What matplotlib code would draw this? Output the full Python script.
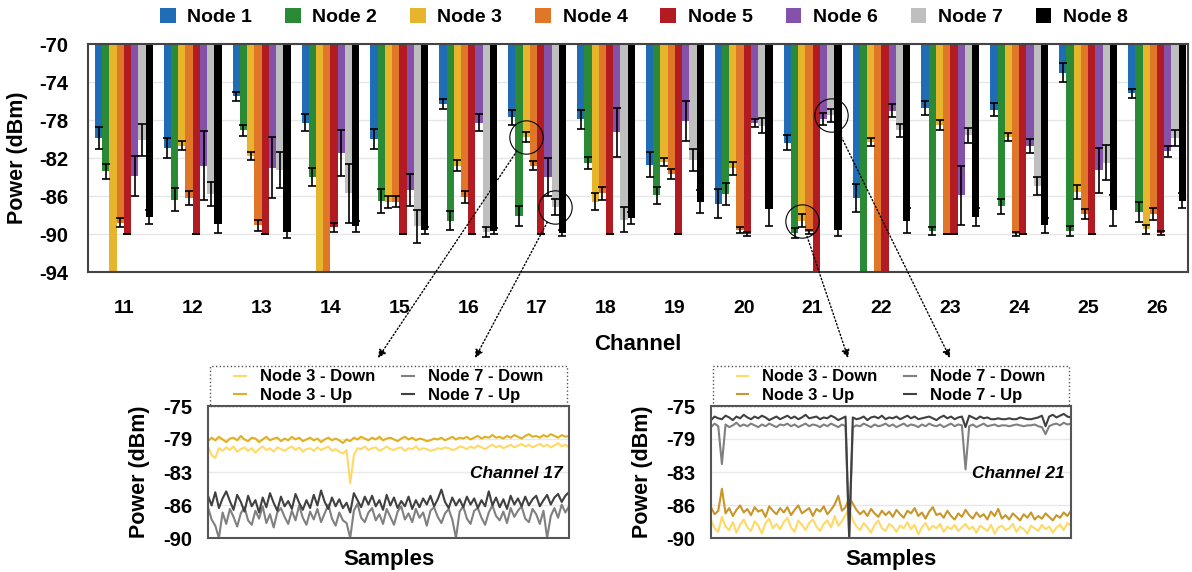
import numpy as np
import matplotlib
matplotlib.use('Agg')
import matplotlib.pyplot as plt
from matplotlib.patches import Patch, Rectangle, ConnectionPatch
from matplotlib.lines import Line2D

plt.rcParams['font.family'] = ['Liberation Sans', 'DejaVu Sans']
plt.rcParams['font.weight'] = 'bold'
plt.rcParams['axes.labelweight'] = 'bold'
plt.rcParams['axes.unicode_minus'] = False

# ---------------- data ----------------
channels = [11, 12, 13, 14, 15, 16, 17, 18, 19, 20, 21, 22, 23, 24, 25, 26]
nodes = ['Node 1', 'Node 2', 'Node 3', 'Node 4', 'Node 5', 'Node 6', 'Node 7', 'Node 8']

# mean power per node (dBm); values below -94 run off the axis
node1 = [-79.9, -80.9, -75.5, -78.3, -80.0, -76.3, -77.7, -77.9, -82.7, -86.8, -80.4, -86.2, -76.7, -76.9, -73.0, -75.2]
node2 = [-83.4, -86.4, -79.1, -84.0, -86.5, -88.6, -88.1, -82.5, -85.9, -85.8, -89.9, -95.0, -89.7, -87.1, -89.7, -87.7]
node3 = [-95.0, -80.7, -81.8, -95.0, -86.6, -82.8, -79.8, -86.6, -82.4, -83.1, -88.6, -80.3, -78.5, -79.8, -85.6, -89.5]
node4 = [-88.8, -86.2, -89.1, -95.0, -86.6, -86.1, -82.8, -85.7, -83.7, -89.6, -89.8, -95.0, -90.0, -90.0, -87.9, -87.9]
node5 = [-90.0, -90.0, -90.0, -89.3, -90.0, -90.0, -90.0, -90.0, -90.0, -90.0, -95.0, -95.0, -90.0, -90.0, -90.0, -89.9]
node6 = [-83.9, -82.8, -83.0, -81.5, -85.4, -78.3, -84.0, -79.3, -78.1, -78.3, -77.9, -77.0, -85.9, -80.7, -83.3, -81.3]
node7 = [-80.1, -85.8, -83.3, -85.7, -89.2, -89.8, -87.2, -88.5, -82.2, -78.6, -77.5, -79.1, -79.6, -84.9, -82.5, -79.9]
node8 = [-88.2, -88.9, -89.8, -89.2, -89.6, -89.7, -89.9, -88.3, -86.6, -87.4, -89.6, -88.6, -88.2, -89.1, -87.5, -86.5]

err1 = [1.2, 1.05, 0.5, 0.9, 1.05, 0.5, 0.8, 1.0, 1.3, 1.5, 0.8, 1.5, 0.75, 0.7, 1.0, 0.45]
err2 = [0.8, 1.2, 0.55, 0.9, 1.25, 1.0, 1.05, 0.65, 0.9, 1.15, 0.5, 0.0, 0.4, 0.8, 0.55, 1.05]
err3 = [0.0, 0.5, 0.4, 0.0, 0.65, 0.55, 0.5, 0.9, 0.4, 0.65, 0.7, 0.45, 0.55, 0.45, 0.75, 0.5]
err4 = [0.5, 0.7, 0.55, 0.0, 0.55, 0.6, 0.45, 0.7, 0.5, 0.3, 0.25, 0.0, 0.05, 0.2, 0.55, 0.65]
err5 = [0.05, 0.05, 0.05, 0.5, 0.05, 0.05, 0.05, 0.05, 0.05, 0.2, 0.0, 0.0, 0.05, 0.05, 0.05, 0.2]
err6 = [2.1, 3.6, 3.2, 2.4, 1.7, 0.9, 2.0, 2.6, 2.1, 0.45, 0.6, 0.7, 3.1, 0.75, 2.4, 0.6]
err7 = [1.7, 1.3, 1.9, 3.1, 1.7, 0.5, 0.85, 1.3, 1.2, 0.8, 0.7, 0.65, 0.8, 0.95, 1.85, 0.8]
err8 = [0.7, 1.0, 0.6, 0.6, 0.35, 0.35, 0.3, 0.6, 1.2, 1.8, 0.6, 1.3, 0.95, 0.75, 1.65, 0.8]

means = [node1, node2, node3, node4, node5, node6, node7, node8]
errs = [err1, err2, err3, err4, err5, err6, err7, err8]
colors = ['#1f6db5', '#2a8a36', '#e6b52c', '#e07628', '#b31b22', '#8452a8', '#bfbfbf', '#000000']

# inset: channel 17 samples
ch17_n3_up = [-79.0, -78.6, -78.9, -78.5, -78.8, -79.1, -78.7, -78.6, -78.9, -78.4,
              -78.8, -79.0, -78.6, -78.7, -79.1, -78.8, -78.5, -78.9, -78.7, -78.6,
              -79.0, -78.7, -78.9, -78.5, -78.8, -78.6, -79.0, -78.8, -78.6, -78.9,
              -78.7, -79.1, -78.8, -78.6, -78.9, -78.7, -78.9, -79.2, -78.8, -79.0,
              -78.6, -78.8, -78.5, -78.7, -78.9, -78.6, -78.8, -78.5, -78.9, -78.7,
              -78.6, -78.8, -79.0, -78.7, -78.5, -78.8, -78.6, -78.9, -78.7, -78.8,
              -79.0, -78.9, -78.7, -78.8, -78.6, -78.9, -78.7, -78.5, -78.8, -78.6,
              -78.7, -78.5, -78.8, -78.6, -78.4, -78.7, -78.5, -78.6, -78.3, -78.6,
              -78.5, -78.7, -78.4, -78.6, -78.3, -78.5, -78.7, -78.4, -78.2, -78.5,
              -78.4, -78.6, -78.3, -78.5, -78.2, -78.4, -78.6, -78.3, -78.5, -78.4]
ch17_n3_down = [-79.6, -80.6, -80.9, -79.8, -80.1, -79.7, -80.0, -79.6, -80.2, -79.9,
                -79.7, -80.1, -79.8, -80.3, -79.9, -79.6, -80.0, -79.8, -80.2, -79.7,
                -79.9, -80.1, -79.8, -79.6, -80.0, -79.7, -80.2, -79.9, -79.8, -80.1,
                -79.7, -80.0, -79.8, -79.6, -80.1, -79.9, -80.2, -80.4, -80.0, -83.8,
                -80.6, -79.8, -79.9, -79.6, -80.0, -79.8, -79.7, -80.1, -79.9, -79.6,
                -79.9, -80.0, -79.8, -79.7, -80.1, -79.8, -79.9, -79.6, -80.0, -79.8,
                -79.9, -80.1, -80.0, -79.8, -79.9, -79.7, -79.8, -80.0, -79.9, -79.6,
                -79.7, -79.9, -79.6, -79.8, -79.5, -79.7, -79.9, -79.6, -79.4, -79.7,
                -79.5, -79.8, -79.6, -79.4, -79.7, -79.5, -79.3, -79.6, -79.4, -79.7,
                -79.5, -79.3, -79.6, -79.4, -79.7, -79.5, -79.2, -79.6, -79.4, -79.7]
ch17_n7_up = [-85.2, -86.3, -84.8, -86.6, -85.5, -84.7, -85.8, -86.8, -85.1, -85.9,
              -87.0, -85.2, -86.4, -85.7, -87.1, -85.4, -86.5, -84.9, -86.0, -86.9,
              -85.3, -86.4, -85.8, -86.7, -85.0, -86.0, -86.8, -85.7, -86.6, -85.1,
              -86.3, -84.6, -85.9, -86.7, -85.4, -86.4, -85.6, -86.6, -86.0, -87.1,
              -84.9, -85.7, -86.5, -85.3, -86.2, -85.2, -86.4, -85.7, -86.8, -85.1,
              -86.3, -85.4, -86.6, -85.8, -86.4, -85.3, -86.7, -85.7, -86.5, -85.5,
              -86.2, -85.2, -86.4, -85.6, -84.5, -85.9, -86.6, -85.4, -86.3, -85.6,
              -86.5, -85.3, -86.2, -85.5, -86.6, -85.7, -86.4, -84.7, -86.3, -85.4,
              -86.5, -85.6, -86.7, -85.2, -86.2, -85.5, -86.4, -85.3, -86.3, -85.6,
              -85.2, -86.4, -85.7, -85.1, -86.2, -85.4, -85.0, -85.9, -85.2, -84.8]
ch17_n7_down = [-86.5, -87.9, -88.6, -90.0, -87.1, -88.4, -86.7, -87.6, -88.7, -87.2,
                -86.5, -88.0, -88.5, -86.9, -87.8, -86.4, -88.3, -87.3, -88.8, -87.1,
                -86.6, -87.6, -88.4, -86.9, -88.0, -86.3, -87.7, -88.5, -87.0, -87.9,
                -86.7, -88.2, -87.2, -86.2, -87.8, -88.6, -87.1, -88.0, -88.3, -90.0,
                -86.9, -86.1, -87.7, -88.2, -87.1, -86.6, -88.0, -87.3, -88.4, -86.7,
                -87.6, -88.5, -87.0, -86.4, -87.9, -87.2, -88.2, -86.7, -87.7, -87.1,
                -88.6, -86.9, -86.5, -87.6, -88.3, -87.2, -86.7, -87.9, -90.0, -87.0,
                -86.4, -87.8, -88.4, -86.9, -86.6, -87.7, -88.5, -87.1, -86.3, -87.5,
                -88.0, -87.0, -88.3, -86.6, -87.6, -86.9, -86.4, -87.8, -88.2, -86.7,
                -87.3, -88.4, -86.9, -90.0, -87.5, -86.6, -87.7, -86.2, -87.1, -86.4]

# inset: channel 21 samples
ch21_n3_up = [-86.5, -87.3, -86.9, -84.4, -87.2, -86.6, -87.5, -86.8, -86.3, -87.1,
              -86.7, -87.4, -86.5, -87.0, -86.8, -87.6, -86.4, -86.9, -87.3, -86.6,
              -87.1, -86.5, -87.4, -86.8, -86.3, -87.2, -86.9, -86.6, -87.5, -86.7,
              -87.0, -86.4, -87.3, -86.8, -86.2, -85.2, -86.9, -86.5, -85.4, -86.1,
              -86.8, -87.3, -86.9, -87.5, -86.7, -87.2, -87.6, -86.9, -87.4, -87.0,
              -87.6, -86.8, -87.3, -87.7, -86.9, -87.2, -86.6, -87.5, -87.1, -87.8,
              -87.0, -86.5, -87.4, -87.2, -87.7, -86.9, -87.5, -87.9, -87.2, -87.6,
              -86.8, -87.4, -87.8, -87.1, -87.6, -87.3, -87.9, -87.0, -87.5, -86.7,
              -87.8, -87.4, -87.9, -87.2, -87.6, -88.0, -87.3, -87.7, -87.1, -87.9,
              -87.5, -87.8, -87.2, -87.6, -88.0, -87.4, -87.7, -87.1, -87.5, -86.9]
ch21_n3_down = [-88.0, -88.9, -89.3, -87.6, -88.7, -89.1, -88.2, -89.4, -88.5, -87.9,
                -88.8, -89.2, -88.1, -88.6, -89.5, -88.3, -87.8, -88.9, -88.4, -89.0,
                -88.2, -87.7, -88.8, -89.3, -88.0, -88.5, -89.1, -88.3, -87.9, -88.7,
                -89.2, -88.4, -88.0, -88.8, -87.5, -88.6, -88.1, -87.4, -86.6, -88.0,
                -88.7, -89.1, -88.3, -88.8, -89.4, -88.5, -88.0, -88.9, -89.2, -88.4,
                -88.7, -89.3, -88.6, -88.9, -88.2, -89.0, -88.5, -89.6, -88.8, -88.3,
                -89.1, -88.6, -88.9, -88.4, -89.3, -88.7, -89.0, -88.5, -89.2, -88.8,
                -88.4, -89.0, -88.7, -89.4, -88.6, -88.9, -89.2, -88.5, -89.5, -88.8,
                -88.6, -89.1, -88.9, -88.4, -89.3, -88.7, -89.0, -89.5, -88.6, -88.9,
                -89.2, -88.5, -89.0, -88.7, -89.4, -88.8, -88.5, -89.1, -88.3, -88.6]
ch21_n7_up = [-76.6, -76.2, -76.4, -76.5, -76.1, -76.3, -76.6, -76.2, -76.4, -76.0,
              -76.3, -76.5, -76.2, -76.4, -76.1, -76.3, -76.6, -76.4, -76.2, -76.5,
              -76.3, -76.1, -76.4, -76.2, -76.5, -76.3, -76.0, -76.4, -76.3, -76.2,
              -76.5, -76.3, -76.4, -76.1, -76.3, -76.6, -76.4, -76.2, -90.0, -76.3,
              -76.5, -76.4, -76.2, -76.6, -76.3, -76.2, -76.4, -76.1, -76.5, -76.3,
              -76.4, -76.2, -76.5, -76.3, -76.1, -76.4, -76.2, -76.5, -76.4, -76.3,
              -76.2, -76.4, -76.6, -76.3, -76.1, -76.4, -76.2, -76.5, -76.3, -76.2,
              -77.4, -76.1, -76.3, -76.5, -76.2, -76.4, -76.3, -76.5, -76.5, -76.4,
              -76.5, -76.5, -76.4, -76.5, -76.5, -76.3, -76.4, -76.5, -76.5, -76.4,
              -76.3, -76.1, -77.3, -76.2, -76.0, -76.3, -76.1, -75.9, -76.2, -76.3]
ch21_n7_down = [-77.4, -77.0, -77.3, -81.6, -77.1, -77.4, -77.2, -76.9, -77.3, -77.1,
                -77.3, -77.0, -77.2, -77.4, -77.1, -77.3, -77.0, -77.2, -77.4, -77.1,
                -77.2, -77.0, -77.3, -77.1, -77.4, -77.2, -77.0, -77.3, -77.1, -77.2,
                -77.4, -77.1, -77.3, -77.0, -77.2, -77.4, -77.1, -77.3, -90.0, -77.4,
                -77.2, -77.3, -77.0, -77.2, -77.4, -77.1, -77.3, -77.2, -77.0, -77.3,
                -77.1, -77.4, -77.2, -77.0, -77.3, -77.1, -77.2, -77.4, -77.1, -77.3,
                -77.0, -77.2, -77.3, -77.1, -77.4, -77.2, -77.0, -77.3, -77.1, -77.2,
                -82.2, -77.3, -77.1, -77.4, -77.2, -77.0, -77.3, -77.2, -77.1, -77.3,
                -77.2, -77.2, -77.3, -77.2, -77.1, -77.2, -77.3, -77.2, -77.2, -77.1,
                -77.3, -77.4, -78.2, -77.3, -77.1, -77.0, -77.2, -76.9, -77.1, -77.0]

inset_ticks = [-90, -86.25, -82.5, -78.75, -75]
inset_ticklabels = ['-90', '-86', '-83', '-79', '-75']

# circles mark (channel index, node index) that the insets zoom into
circles = [(6, 2), (6, 6), (10, 2), (10, 6)]

# ---------------- main bar chart ----------------
fig = plt.figure(figsize=(11.92, 5.72), dpi=100)
W, H = 1192, 572
ax = fig.add_axes([88 / W, 1 - 272 / H, 1100 / W, 228 / H])

x = np.arange(len(channels))
bw = 0.105
for i in range(len(nodes)):
    xi = x + (i - 3.5) * bw
    vals = np.array(means[i])
    ax.bar(xi, vals + 70, bottom=-70, width=bw, color=colors[i], zorder=2)
    ax.errorbar(xi, vals, yerr=errs[i], fmt='none', ecolor='black',
                elinewidth=1.2, capsize=3, capthick=1.2, zorder=3)

ax.set_ylim(-94, -70)
ax.set_xlim(-0.52, 15.45)
ax.set_yticks(np.arange(-94, -69, 4))
ax.set_xticks(x)
ax.set_xticklabels([str(c) for c in channels])
ax.tick_params(axis='x', length=0, pad=20, labelsize=14)
ax.tick_params(axis='y', length=0, pad=14, labelsize=14.5)
ax.grid(axis='y', color='#e6e6e6', lw=1, zorder=0)
ax.set_axisbelow(True)
for s in ax.spines.values():
    s.set_color('#444444')
    s.set_linewidth(1.5)

ax.set_xlabel('Channel', fontsize=16)
ax.xaxis.set_label_coords(0.5, -0.32)
ax.xaxis.label.set_va('center')
ax.set_ylabel('Power (dBm)', fontsize=15.5)
ax.yaxis.set_label_coords(-0.0645, 0.5)
ax.yaxis.label.set_va('center')

handles = [Patch(facecolor=c, edgecolor='none') for c in colors]
fig.legend(handles, nodes, loc='center', bbox_to_anchor=(644 / W, 1 - 17 / H),
           ncol=8, frameon=False, fontsize=14, handlelength=0.8, handleheight=0.8,
           handletextpad=0.6, columnspacing=1.7)

# circles on the main chart
cx = [ch + (nd - 3.5) * bw for ch, nd in circles]
cy = [means[nd][ch] for ch, nd in circles]
ax.plot(cx, cy, 'o', ms=24, mfc='none', mec='black', mew=0.8, zorder=5)

# ---------------- insets ----------------
def inset(rect, series, cols, labels, title):
    a = fig.add_axes(rect)
    n = len(series[0])
    for s, c, l in zip(series, cols, labels):
        a.plot(np.arange(n), s, color=c, lw=1.5, label=l)
    a.set_xlim(0, n - 1)
    a.set_ylim(-90, -75)
    a.set_yticks(inset_ticks)
    a.set_yticklabels(inset_ticklabels)
    a.set_xticks([])
    a.tick_params(axis='y', length=0, pad=11, labelsize=14.5)
    a.grid(axis='y', color='#e8e8e8', lw=1)
    a.set_axisbelow(True)
    for s in a.spines.values():
        s.set_color('#555555')
        s.set_linewidth(1.5)
    a.set_ylabel('Power (dBm)', fontsize=15.5)
    a.yaxis.set_label_coords(-0.19, 0.5)
    a.yaxis.label.set_va('center')
    a.set_xlabel('Samples', fontsize=16)
    a.xaxis.set_label_coords(0.5, -0.16)
    a.xaxis.label.set_va('center')
    a.text(0.983, 0.49, title, transform=a.transAxes, ha='right', va='center',
           fontsize=12.5, style='italic', fontweight='bold')
    # dotted legend box above the inset
    a.add_patch(Rectangle((0.005, 1.0), 0.99, 40 / 132, transform=a.transAxes,
                          fill=False, ls=':', lw=1, ec='#555555', clip_on=False))
    hs = [Line2D([], [], color=c, lw=1.5) for c in cols]
    a.legend(hs, labels, loc='center', ncol=2,
             bbox_to_anchor=(0.5, 1 + 20 / 132), frameon=False, fontsize=12,
             handlelength=0.7, handletextpad=0.85, columnspacing=1.6,
             labelspacing=0.2, borderpad=0.1)
    return a

lab = ['Node 3 - Down', 'Node 3 - Up', 'Node 7 - Down', 'Node 7 - Up']
ax1 = inset([208 / W, 1 - 538 / H, 361 / W, 132 / H],
            [ch17_n3_down, ch17_n3_up, ch17_n7_down, ch17_n7_up],
            ['#ffd966', '#e0b020', '#808080', '#404040'], lab, 'Channel 17')
ax2 = inset([711 / W, 1 - 538 / H, 360 / W, 132 / H],
            [ch21_n3_down, ch21_n3_up, ch21_n7_down, ch21_n7_up],
            ['#ffd966', '#c8962a', '#808080', '#404040'], lab, 'Channel 21')

# dotted arrows from the circles to the insets
targets = [(ax1, 0.471), (ax1, 0.74), (ax2, 0.381), (ax2, 0.664)]
for (px, py), (a, tx) in zip(zip(cx, cy), targets):
    con = ConnectionPatch(xyA=(px, py), coordsA=ax.transData,
                          xyB=(tx, 180 / 132), coordsB=a.transAxes,
                          arrowstyle='-|>', ls=':', lw=1, color='black',
                          shrinkA=12, shrinkB=0, mutation_scale=12)
    fig.add_artist(con)

fig.savefig('out.png', dpi=100)
